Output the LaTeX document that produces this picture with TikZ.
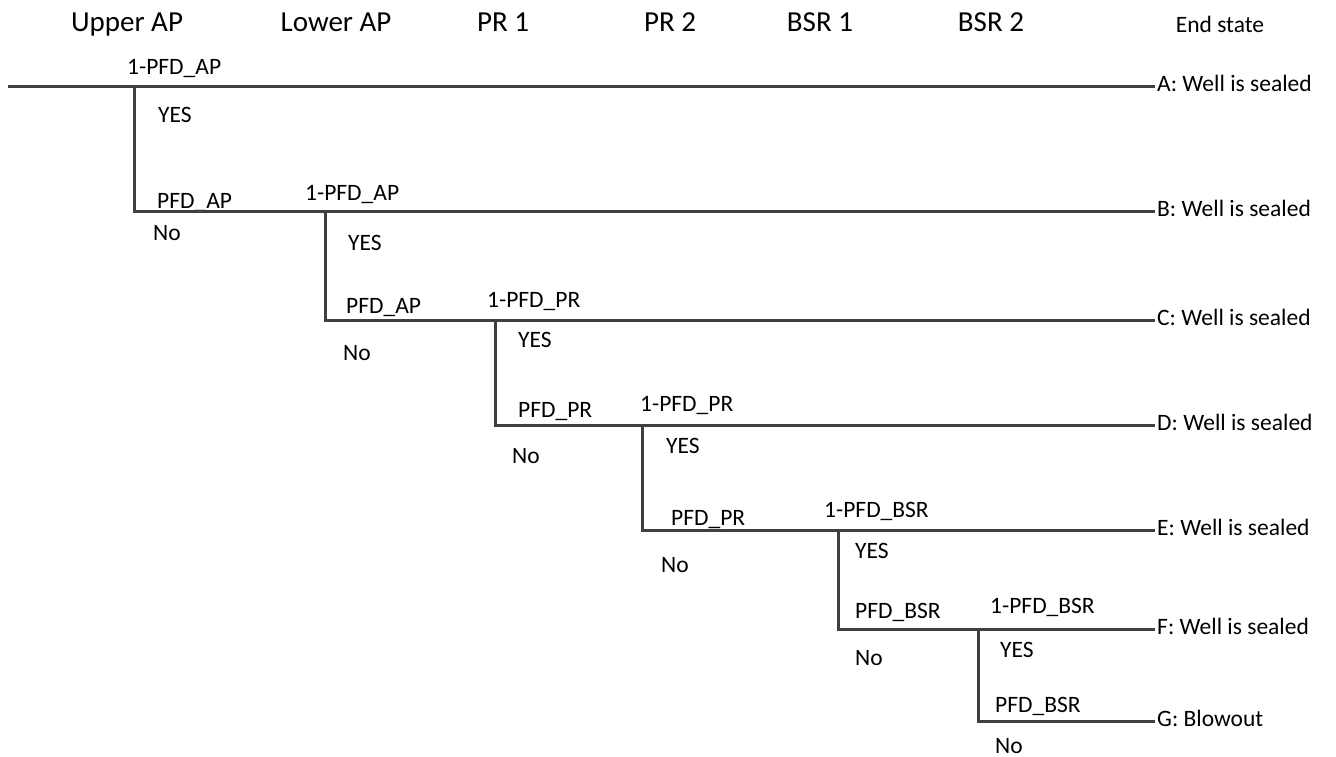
\documentclass[tikz,border=0pt]{standalone}
\usepackage{fontspec}
\setmainfont{Carlito}
\usepackage{tikz}
\usetikzlibrary{positioning}
\definecolor{linegray}{RGB}{64, 64, 64}
\tikzstyle{head} = [anchor=base, inner sep=0pt, text=black, font=\fontsize{29}{34}\selectfont]
\tikzstyle{prob} = [anchor=base west, inner sep=0pt, text=black, font=\fontsize{23.5}{28}\selectfont]
\tikzstyle{outcome} = [anchor=base west, inner xsep=2pt, inner ysep=0pt, text=black, font=\fontsize{23.5}{28}\selectfont]
\tikzstyle{branch} = [draw=linegray, line width=3pt]

\begin{document}
\begin{tikzpicture}[x=1pt, y=-1pt]

\useasboundingbox (0,0) rectangle (1336,757);

% headers =============================
\node[head] (upper) at (127,32) {Upper AP};
\node[head] (lower) at (336,32) {Lower AP};
\node[head] (pr1) at (503,32) {PR 1};
\node[head] (pr2) at (670,32) {PR 2};
\node[head] (bsr1) at (820,32) {BSR 1};
\node[head] (bsr2) at (991,32) {BSR 2};
\node[prob, anchor=base] (endstate) at (1220,33) {End state};

% end states
\node[outcome] (endA) at (1155,92) {A: Well is sealed};
\node[outcome] (endB) at (1155,216) {B: Well is sealed};
\node[outcome] (endC) at (1155,325) {C: Well is sealed};
\node[outcome] (endD) at (1155,430) {D: Well is sealed};
\node[outcome] (endE) at (1155,535) {E: Well is sealed};
\node[outcome] (endF) at (1155,634) {F: Well is sealed};
\node[outcome] (endG) at (1155,726) {G: Blowout};

% forks and corners
\coordinate (start) at (8,87);
\coordinate (fA) at (134,87);
\coordinate (cB) at (134,211);
\coordinate (fB) at (325,211);
\coordinate (cC) at (325,320);
\coordinate (fC) at (495,320);
\coordinate (cD) at (495,425);
\coordinate (fD) at (642,425);
\coordinate (cE) at (642,530);
\coordinate (fE) at (838,530);
\coordinate (cF) at (838,629);
\coordinate (fF) at (978,629);
\coordinate (cG) at (978,721);

% probabilities
\node[prob] (yes1) at (127,75) {1-PFD\_AP};
\node[prob] (ok1) at (158,123) {YES};
\node[prob] (no1) at (157,208) {PFD\_AP};
\node[prob] (fail1) at (153,240) {No};

\node[prob] (yes2) at (305,200) {1-PFD\_AP};
\node[prob] (ok2) at (348,250) {YES};
\node[prob] (no2) at (346,313) {PFD\_AP};
\node[prob] (fail2) at (343,360) {No};

\node[prob] (yes3) at (487,307) {1-PFD\_PR};
\node[prob] (ok3) at (518,347) {YES};
\node[prob] (no3) at (518,417) {PFD\_PR};
\node[prob] (fail3) at (512,463) {No};

\node[prob] (yes4) at (640,411) {1-PFD\_PR};
\node[prob] (ok4) at (666,453) {YES};
\node[prob] (no4) at (671,525) {PFD\_PR};
\node[prob] (fail4) at (661,572) {No};

\node[prob] (yes5) at (824,517) {1-PFD\_BSR};
\node[prob] (ok5) at (855,558) {YES};
\node[prob] (no5) at (855,618) {PFD\_BSR};
\node[prob] (fail5) at (855,665) {No};

\node[prob] (yes6) at (990,613) {1-PFD\_BSR};
\node[prob] (ok6) at (1000,657) {YES};
\node[prob] (no6) at (995,712) {PFD\_BSR};
\node[prob] (fail6) at (995,753) {No};

%edges
\path[branch] (start) -- (start -| endA.west);
\path[branch] (fA) -- (cB) -- (cB -| endB.west);
\path[branch] (fB) -- (cC) -- (cC -| endC.west);
\path[branch] (fC) -- (cD) -- (cD -| endD.west);
\path[branch] (fD) -- (cE) -- (cE -| endE.west);
\path[branch] (fE) -- (cF) -- (cF -| endF.west);
\path[branch] (fF) -- (cG) -- (cG -| endG.west);

\end{tikzpicture}
\end{document}
